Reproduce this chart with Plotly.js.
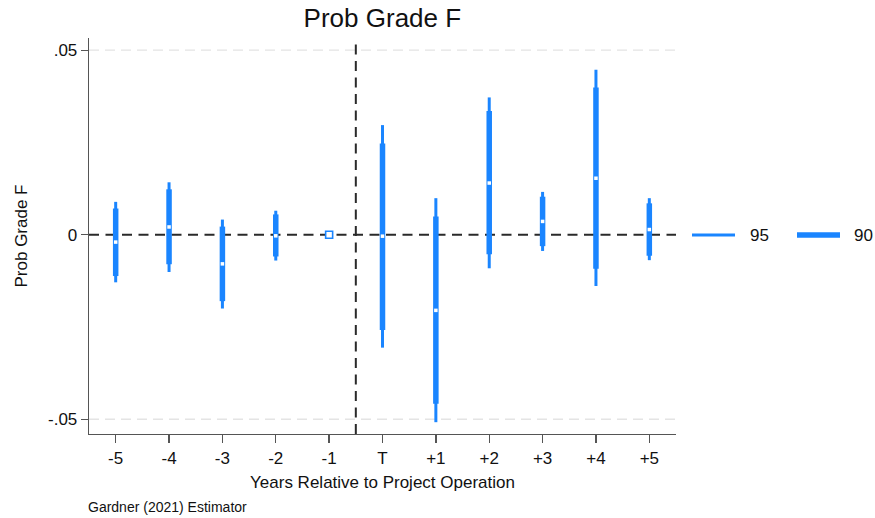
<!DOCTYPE html>
<html>
<head>
<meta charset="utf-8">
<script src="https://cdn.plot.ly/plotly-3.0.1.min.js"></script>
<style>
  html, body { margin: 0; padding: 0; background: #ffffff; }
  #chart { width: 875px; height: 518px; }
</style>
</head>
<body>
<div id="chart"></div>
<script>
// Event-study coefficients: years relative to project operation
const categories = ["-5", "-4", "-3", "-2", "-1", "T", "+1", "+2", "+3", "+4", "+5"];
const estimate = [-0.0020, 0.0021, -0.0079, -0.0003, 0, -0.0004, -0.0205, 0.0140, 0.0036, 0.0153, 0.0014];
const lo95 = [-0.0129, -0.0101, -0.0200, -0.0070, 0, -0.0306, -0.0508, -0.0091, -0.0044, -0.0139, -0.0069];
const hi95 = [0.0089, 0.0142, 0.0041, 0.0065, 0, 0.0297, 0.0099, 0.0372, 0.0116, 0.0447, 0.0099];
const lo90 = [-0.0112, -0.0080, -0.0180, -0.0059, 0, -0.0258, -0.0458, -0.0053, -0.0031, -0.0092, -0.0057];
const hi90 = [0.0071, 0.0123, 0.0022, 0.0055, 0, 0.0247, 0.0049, 0.0335, 0.0103, 0.0399, 0.0085];
const referencePeriod = "-1";
const yTickVals = [-0.05, 0, 0.05];
const yTickText = ["-.05", "0", ".05"];
const ciLevels = ["95", "90"];

const blue = "#1a85ff";
const font = "Liberation Sans, Arial, sans-serif";
const thin = 3, thick = 5.5;

// vertical segments for each interval, separated by gaps
function segments(lo, hi) {
  const xs = [], ys = [];
  categories.forEach((c, i) => {
    xs.push(c, c, null);
    ys.push(lo[i], hi[i], null);
  });
  return { xs, ys };
}

const s95 = segments(lo95, hi95);
const s90 = segments(lo90, hi90);

const estIdx = categories.map((c, i) => i).filter(i => categories[i] !== referencePeriod);
const refIdx = categories.indexOf(referencePeriod);

const traces = [
  {
    type: "scatter", mode: "lines", name: ciLevels[0], showlegend: false,
    x: s95.xs, y: s95.ys, connectgaps: false,
    line: { color: blue, width: thin },
    hoverinfo: "skip"
  },
  {
    type: "scatter", mode: "lines", name: ciLevels[1], showlegend: false,
    x: s90.xs, y: s90.ys, connectgaps: false,
    line: { color: blue, width: thick },
    hoverinfo: "skip"
  },
  {
    type: "scatter", mode: "markers", showlegend: false,
    x: estIdx.map(i => categories[i]), y: estIdx.map(i => estimate[i]),
    marker: { symbol: "square", size: 3.5, color: "#ffffff", line: { width: 0 } },
    hoverinfo: "skip"
  },
  {
    type: "scatter", mode: "markers", showlegend: false,
    x: [categories[refIdx]], y: [estimate[refIdx]],
    marker: { symbol: "square", size: 7, color: "#ffffff", line: { width: 1.6, color: blue } },
    hoverinfo: "skip"
  }
];

// plot-area geometry (pixels) for placing the key beside the axes
const M = { l: 89, r: 199, t: 38, b: 84 };
const plotW = 875 - M.l - M.r, plotH = 518 - M.t - M.b;
const px = v => (v - M.l) / plotW;
const keyY = (518 - M.b - 235) / plotH;

const dashStyle = { color: "#2a2a2a", width: 2, dash: "10px,6.5px" };

const shapes = [];
// light dashed guides at the non-zero ticks
yTickVals.filter(v => v !== 0).forEach(v => {
  shapes.push({
    type: "line", layer: "below", xref: "paper", yref: "y",
    x0: 0, x1: 1, y0: v, y1: v,
    line: { color: "#e4e4e4", width: 1.3, dash: "10px,6px" }
  });
});
// zero reference and treatment-onset divider
shapes.push({
  type: "line", layer: "below", xref: "paper", yref: "y",
  x0: 0, x1: 1, y0: 0, y1: 0, line: dashStyle
});
shapes.push({
  type: "line", layer: "below", xref: "x", yref: "paper",
  x0: refIdx + 0.5, x1: refIdx + 0.5, y0: 0, y1: 1, line: dashStyle
});
// key: thin line = 95% interval, thick line = 90% interval
const keyItems = [
  { label: ciLevels[0], x0: 692, x1: 735, tx: 748, w: thin },
  { label: ciLevels[1], x0: 797, x1: 840, tx: 852, w: thick }
];
keyItems.forEach(k => {
  shapes.push({
    type: "line", xref: "paper", yref: "paper",
    x0: px(k.x0), x1: px(k.x1), y0: keyY, y1: keyY,
    line: { color: blue, width: k.w }
  });
});

const annotations = keyItems.map(k => ({
  text: k.label, xref: "paper", yref: "paper",
  x: px(k.tx), y: keyY, xanchor: "left", yanchor: "middle",
  showarrow: false, font: { family: font, size: 17, color: "#111111" }
}));
annotations.push({
  text: "Gardner (2021) Estimator", xref: "paper", yref: "paper",
  x: px(86), y: -0.184, xanchor: "left", yanchor: "middle",
  showarrow: false, font: { family: font, size: 14, color: "#111111" }
});

const layout = {
  width: 875, height: 518,
  paper_bgcolor: "#ffffff", plot_bgcolor: "#ffffff",
  margin: M,
  font: { family: font, color: "#111111", size: 17 },
  title: {
    text: "Prob Grade F",
    font: { family: font, size: 26, color: "#111111" },
    x: 0.437, xanchor: "center", y: 0.965, yanchor: "middle"
  },
  xaxis: {
    type: "category",
    categoryorder: "array", categoryarray: categories,
    range: [-0.5, 10.5],
    showgrid: false, zeroline: false,
    showline: true, linecolor: "#555555", linewidth: 1.3,
    ticks: "outside", ticklen: 8, tickcolor: "#555555", tickwidth: 1.3,
    tickfont: { family: font, size: 17, color: "#111111" },
    title: { text: "Years Relative to Project Operation", font: { family: font, size: 17, color: "#111111" }, standoff: 9 },
    fixedrange: true
  },
  yaxis: {
    range: [-0.054, 0.0533],
    tickvals: yTickVals, ticktext: yTickText,
    showgrid: false, zeroline: false,
    showline: true, linecolor: "#555555", linewidth: 1.3,
    ticks: "outside", ticklen: 7, tickcolor: "#555555", tickwidth: 1.3,
    tickfont: { family: font, size: 17, color: "#111111" },
    title: { text: "Prob Grade F", font: { family: font, size: 17, color: "#111111" }, standoff: 16 },
    fixedrange: true
  },
  showlegend: false,
  shapes: shapes,
  annotations: annotations
};

Plotly.newPlot("chart", traces, layout, { staticPlot: true, displayModeBar: false });
</script>
</body>
</html>
